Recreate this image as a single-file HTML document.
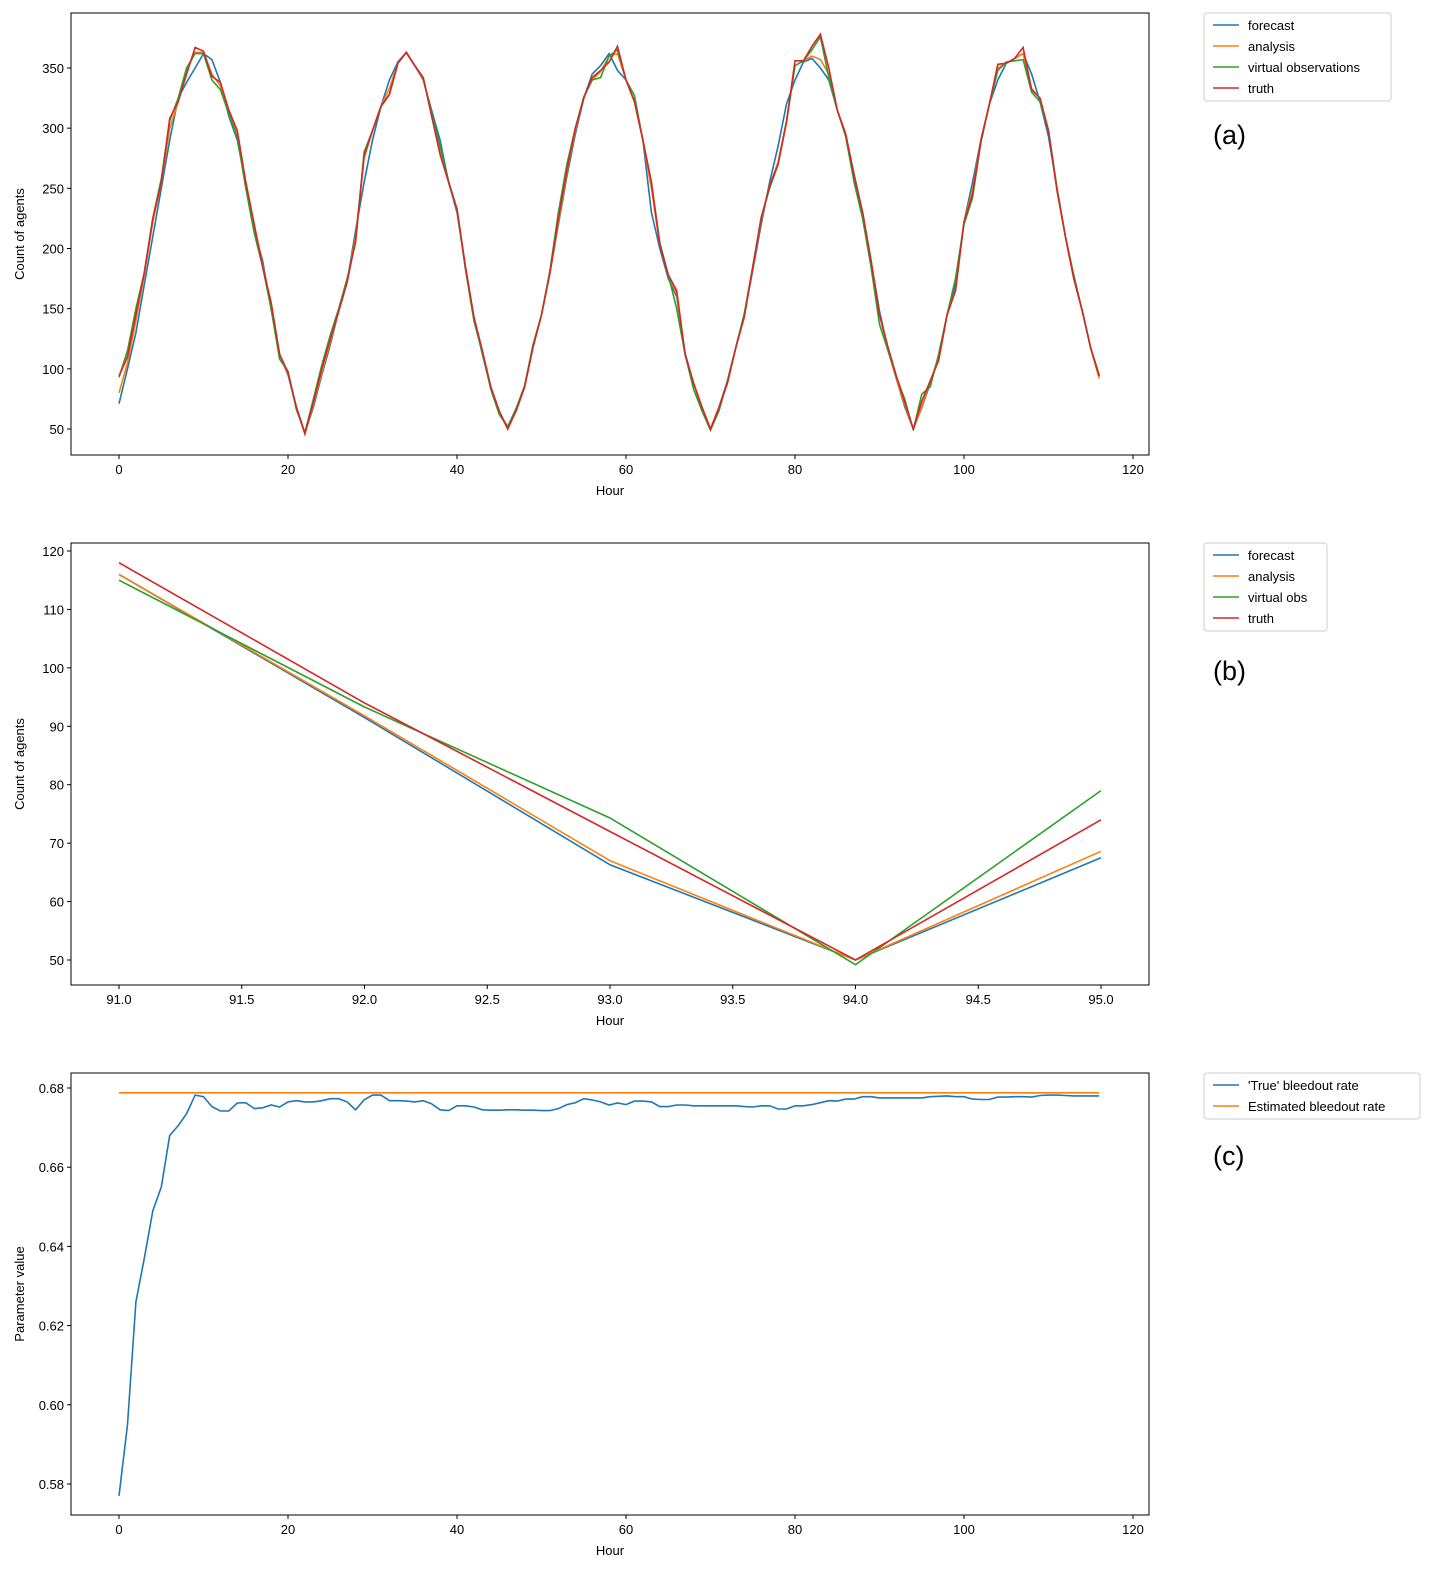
<!DOCTYPE html>
<html><head><meta charset="utf-8"><style>
body{margin:0;background:#fff;font-family:"Liberation Sans",sans-serif}
svg text{font-family:"Liberation Sans",sans-serif;fill:#000}
</style></head><body>
<svg id="s" width="1438" height="1576" xmlns="http://www.w3.org/2000/svg"></svg>
<script>
const hoursA=[...Array(117).keys()];
const forecastA=[71,100,130,170,210,250,290,325,338,350,
362,357,338,310,290,255,215,190,150,112,
95,68,47,68,95,120,148,172,215,255,
290,318,340,355,363,352,340,315,290,255,
230,185,143,112,85,63,52,65,85,118,
145,180,220,260,295,325,345,352,362,348,
340,322,290,230,200,175,160,113,88,68,
50,68,90,118,145,182,220,255,285,320,
340,355,358,350,340,315,295,262,230,190,
148,116,91.5,68,50,67.5,88,110,145,170,
222,255,290,320,340,354,358,362,345,322,
293,250,210,175,148,117,94];
const analysisA=[80,105,140,178,222,255,300,322,348,363,
363,345,335,315,295,255,220,186,155,112,
96,68,46,70,97,123,148,172,210,275,
298,318,333,354,363,352,341,312,280,255,
232,185,143,114,85,64,50,66,85,118,
145,180,222,263,298,326,340,347,360,362,
340,322,290,250,203,178,162,112,88,68,
50,68,88,118,144,184,224,252,272,306,
352,356,360,357,345,315,295,260,230,190,
145,116,91.8,70,50,68.6,90,107,145,165,
222,248,290,320,350,354,358,362,333,325,
298,250,210,175,148,117,92];
const virtualA=[93,115,150,180,225,258,306,325,350,362,
362,340,332,312,292,250,213,185,150,108,
98,66,47,75,103,128,150,175,205,280,
298,318,328,354,363,352,342,312,285,256,
232,183,140,113,83,62,52,67,86,120,
145,182,230,270,300,326,340,342,360,365,
340,327,290,255,205,178,150,112,83,65,
49,65,90,118,146,185,226,250,270,305,
352,356,365,376,342,315,293,255,225,185,
137,115,93.3,74.3,49.2,79,85,112,145,175,
220,242,288,320,348,355,356,357,330,322,
298,250,210,178,148,117,95];
const truthA=[94,110,145,180,225,255,308,322,345,367,
364,343,338,315,298,255,220,185,155,112,
97,68,46,72,100,125,148,172,207,277,
298,318,328,354,363,352,342,310,278,255,
233,185,143,115,85,65,50,65,85,118,
145,180,225,265,300,325,342,348,355,368,
340,322,290,255,203,178,165,112,88,68,
50,68,88,118,143,185,225,252,270,305,
356,356,368,378,350,315,295,260,230,190,
145,118,94,72,50,73,90,107,145,165,
222,245,290,320,353,354,358,367,332,325,
298,248,210,175,148,117,94];
const hoursB=[91,92,93,94,95];
const forecastB=[116,91.5,66.3,50,67.5];
const analysisB=[116,91.8,67,50,68.6];
const virtualB=[115,93.3,74.3,49.2,79];
const truthB=[118,94,72,50,74];
const trueRateC=[0.577,0.595,0.626,0.637,0.649,0.655,0.668,0.6705,0.6735,0.6782,
0.6778,0.6753,0.6742,0.6742,0.6762,0.6763,0.6748,0.675,0.6757,0.6752,
0.6765,0.6768,0.6765,0.6765,0.6768,0.6773,0.6773,0.6765,0.6745,0.677,
0.6782,0.6782,0.6768,0.6768,0.6767,0.6765,0.6768,0.676,0.6745,0.6743,
0.6755,0.6755,0.6752,0.6745,0.6744,0.6744,0.6745,0.6745,0.6744,0.6744,
0.6743,0.6743,0.6748,0.6758,0.6763,0.6773,0.677,0.6765,0.6757,0.6762,
0.6758,0.6767,0.6767,0.6765,0.6753,0.6753,0.6757,0.6757,0.6755,0.6755,
0.6755,0.6755,0.6755,0.6755,0.6753,0.6752,0.6755,0.6755,0.6747,0.6747,
0.6755,0.6755,0.6758,0.6763,0.6768,0.6767,0.6772,0.6772,0.6778,0.6778,
0.6775,0.6775,0.6775,0.6775,0.6775,0.6775,0.6778,0.6779,0.678,0.6778,
0.6778,0.6772,0.6771,0.6771,0.6777,0.6777,0.6778,0.6778,0.6777,0.6781,
0.6782,0.6782,0.6781,0.678,0.678,0.678,0.678];
const estRateC=hoursA.map(()=>0.6788);
const xTicksAC=[0,20,40,60,80,100,120];
const yTicksA=[50,100,150,200,250,300,350];
const xTicksB=[91.0,91.5,92.0,92.5,93.0,93.5,94.0,94.5,95.0];
const yTicksB=[50,60,70,80,90,100,110,120];
const yTicksC=[0.58,0.60,0.62,0.64,0.66,0.68];

const svg=document.getElementById('s');
const NS='http://www.w3.org/2000/svg';
function mk(t,a,p){const e=document.createElementNS(NS,t);for(const k in a)e.setAttribute(k,a[k]);(p||svg).appendChild(e);return e;}
const C={b:'#1f77b4',o:'#ff7f0e',g:'#2ca02c',r:'#d62728'};

function panel(name,top,x0,x1,px0,px1,y0,y1,py0,py1,xt,yt,xfmt,yfmt,ytitle,series,legend,lw,lbl){
  const g=mk('g',{});
  
  
  const L=71,R=1149,T=top,B=top+442;
  const sx=v=>px0+(v-x0)*(px1-px0)/(x1-x0);
  const sy=v=>py0+(v-y0)*(py1-py0)/(y1-y0);
  const clip=mk('clipPath',{id:'c'+name},g);mk('rect',{x:L,y:T,width:R-L,height:B-T},clip);
  series.forEach(s=>{
    const d=s.x.map((x,i)=>(i?'L':'M')+sx(x).toFixed(1)+','+sy(s.y[i]).toFixed(1)).join('');
    const p=mk('path',{d,fill:'none',stroke:s.c,'stroke-width':1.6,'clip-path':'url(#c'+name+')'},g);
    
    
  });
  mk('rect',{x:L,y:T,width:R-L,height:B-T,fill:'none',stroke:'#000','stroke-width':1},g);
  xt.forEach(v=>{const x=sx(v);mk('line',{x1:x,x2:x,y1:B,y2:B+4,stroke:'#000'},g);
    const t=mk('text',{x:x,y:B+19,'text-anchor':'middle','font-size':13},g);t.textContent=xfmt(v);
    });
  yt.forEach(v=>{const y=sy(v);mk('line',{x1:L-4,x2:L,y1:y,y2:y,stroke:'#000'},g);
    const t=mk('text',{x:L-7,y:y+5,'text-anchor':'end','font-size':13},g);t.textContent=yfmt(v);
    });
  const xtl=mk('text',{x:610,y:B+40,'text-anchor':'middle','font-size':13},g);xtl.textContent='Hour';
  
  const ytl=mk('text',{x:24,y:(T+B)/2,'text-anchor':'middle','font-size':13,transform:`rotate(-90 24 ${(T+B)/2})`},g);ytl.textContent=ytitle;
  
  const lg=mk('g',{},g);
  
  mk('rect',{x:1204,y:T,width:lw,height:legend.length*21+4,rx:3,fill:'#fff',stroke:'#ccc'},lg);
  legend.forEach((l,i)=>{const y=T+12+i*21;
    mk('line',{x1:1213,x2:1239,y1:y,y2:y,stroke:l.c,'stroke-width':1.6},lg);
    const t=mk('text',{x:1248,y:y+5,'font-size':13},lg);t.textContent=l.n;
    });
  const pl=mk('text',{x:1213,y:lbl,'font-size':27},g);pl.textContent=name==='panel-a'?'(a)':name==='panel-b'?'(b)':'(c)';
  
}
const ix=v=>String(v), f1=v=>v.toFixed(1), f2=v=>v.toFixed(2);
panel('panel-a',13,0,120,119,1133,50,350,429,68,xTicksAC,yTicksA,ix,ix,'Count of agents',
 [{n:'forecast',c:C.b,x:hoursA,y:forecastA},{n:'analysis',c:C.o,x:hoursA,y:analysisA},{n:'virtual',c:C.g,x:hoursA,y:virtualA},{n:'truth',c:C.r,x:hoursA,y:truthA}],
 [{n:'forecast',c:C.b},{n:'analysis',c:C.o},{n:'virtual observations',c:C.g},{n:'truth',c:C.r}],187,144);
panel('panel-b',543,91,95,119,1101,50,120,960,551,xTicksB,yTicksB,f1,ix,'Count of agents',
 [{n:'forecast',c:C.b,x:hoursB,y:forecastB},{n:'analysis',c:C.o,x:hoursB,y:analysisB},{n:'virtual',c:C.g,x:hoursB,y:virtualB},{n:'truth',c:C.r,x:hoursB,y:truthB}],
 [{n:'forecast',c:C.b},{n:'analysis',c:C.o},{n:'virtual obs',c:C.g},{n:'truth',c:C.r}],123,680);
panel('panel-c',1073,0,120,119,1133,0.58,0.68,1484,1088,xTicksAC,yTicksC,ix,f2,'Parameter value',
 [{n:'true-rate',c:C.b,x:hoursA,y:trueRateC},{n:'estimated-rate',c:C.o,x:hoursA,y:estRateC}],
 [{n:"'True' bleedout rate",c:C.b},{n:'Estimated bleedout rate',c:C.o}],216,1165);
</script>
</body></html>
